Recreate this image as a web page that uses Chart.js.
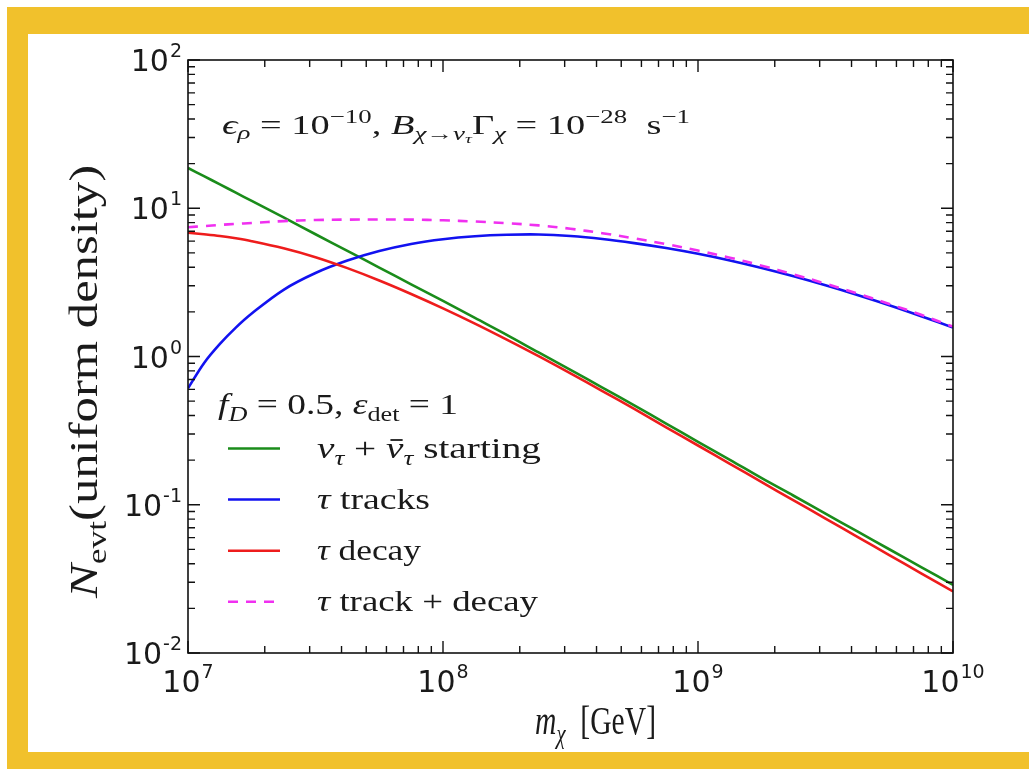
<!DOCTYPE html>
<html><head><meta charset="utf-8">
<script src="https://cdn.jsdelivr.net/npm/chart.js@4.4.1/dist/chart.umd.min.js"></script>
<style>
html,body{margin:0;padding:0;background:#fff;}
#wrap{position:relative;width:1029px;height:769px;overflow:hidden;background:#fff;}
.band{position:absolute;background:#F1C12C;}
canvas{position:absolute;left:0;top:0;}
</style></head><body>
<div id="wrap">
<div class="band" style="left:7px;top:7px;width:1022px;height:27px"></div>
<div class="band" style="left:7px;top:7px;width:21px;height:762px"></div>
<div class="band" style="left:7px;top:752px;width:1022px;height:17px"></div>
<canvas id="c" width="1029" height="769"></canvas>
</div>
<script>
// ---- data ----
const massGeV = [1e7, 1.155e7, 1.334e7, 1.540e7, 1.778e7, 2.371e7, 3.162e7, 4.217e7, 5.623e7, 7.499e7,
                 1e8, 1.334e8, 1.778e8, 2.371e8, 3.162e8, 4.217e8, 5.623e8, 7.499e8,
                 1e9, 1.334e9, 1.778e9, 2.371e9, 3.162e9, 4.217e9, 5.623e9, 7.499e9, 1e10];
const nuStarting     = [18.7, 16.45, 14.5, 12.74, 11.2, 8.67, 6.68, 5.16, 3.98, 3.07,
                        2.37, 1.82, 1.40, 1.065, 0.813, 0.617, 0.468, 0.353,
                        0.266, 0.201, 0.151, 0.115, 0.0871, 0.0661, 0.0501, 0.0380, 0.0288];
const tauTracks      = [0.610, 0.902, 1.216, 1.567, 1.950, 2.818, 3.656, 4.436, 5.140, 5.741,
                        6.180, 6.471, 6.622, 6.653, 6.501, 6.209, 5.821, 5.395,
                        4.932, 4.446, 3.954, 3.475, 3.020, 2.600, 2.218, 1.871, 1.567];
const tauDecay       = [6.839, 6.68, 6.501, 6.27, 5.998, 5.370, 4.677, 3.945, 3.258, 2.642,
                        2.113, 1.667, 1.300, 1.005, 0.769, 0.585, 0.443, 0.333,
                        0.251, 0.189, 0.142, 0.107, 0.0807, 0.0608, 0.0458, 0.0345, 0.0260];
const trackPlusDecay = [7.45, 7.58, 7.72, 7.84, 7.95, 8.19, 8.33, 8.38, 8.40, 8.38,
                        8.29, 8.14, 7.92, 7.66, 7.27, 6.79, 6.26, 5.73,
                        5.18, 4.64, 4.10, 3.58, 3.10, 2.66, 2.26, 1.91, 1.59];
const xTickValues = [1e7, 1e8, 1e9, 1e10];
const xTickExps   = ['7', '8', '9', '10'];
const yTickValues = [1e-2, 1e-1, 1, 10, 100];
const yTickExps   = ['-2', '-1', '0', '1', '2'];
const seriesLabels = ['ν_τ + ν̄_τ starting', 'τ tracks', 'τ decay', 'τ track + decay'];
const seriesColors = ['#1a8c1a', '#1212f0', '#ee1c1c', '#f030f0'];

// ---- rich text helpers ----
const SERIF = '"Liberation Serif", "DejaVu Serif", serif';
const SANS = '"DejaVu Sans", sans-serif';
const TXT = '#1a1a1a';
function seg(t, o) { return Object.assign({ t: t }, o || {}); }
const SUB = { sc: 0.7, dy: 0.22 };
const SUP = { sc: 0.7, dy: -0.42 };
function layoutRich(ctx, segs, size) {
  let w = 0; const items = [];
  for (const s of segs) {
    const fs = size * (s.sc || 1);
    const font = (s.it ? 'italic ' : '') + fs + 'px ' + SERIF;
    ctx.font = font;
    const m = ctx.measureText(s.t).width;
    items.push({ s: s, font: font, fs: fs, x: w, w: m, dy: (s.dy || 0) * size });
    w += m;
  }
  return { items: items, w: w };
}
function drawRich(ctx, segs, o) {
  const L = layoutRich(ctx, segs, o.size);
  const sx = o.width ? o.width / L.w : 1;
  ctx.save();
  ctx.translate(o.x, o.y);
  if (o.rotate) ctx.rotate(o.rotate);
  ctx.scale(sx, 1);
  ctx.fillStyle = TXT; ctx.strokeStyle = TXT;
  ctx.textBaseline = 'alphabetic'; ctx.textAlign = 'left';
  for (const it of L.items) {
    ctx.font = it.font;
    ctx.fillText(it.s.t, it.x, it.dy);
    if (it.s.bar) {
      ctx.lineWidth = it.fs * 0.06;
      const yb = it.dy - it.fs * 0.6;
      ctx.beginPath(); ctx.moveTo(it.x + it.w * 0.25, yb); ctx.lineTo(it.x + it.w * 0.95, yb); ctx.stroke();
    }
  }
  ctx.restore();
}
function drawPow(ctx, exp, x, y, align) {
  ctx.save();
  ctx.fillStyle = TXT; ctx.textBaseline = 'alphabetic'; ctx.textAlign = 'left';
  ctx.font = '30px ' + SANS; const w1 = ctx.measureText('10').width;
  ctx.font = '19px ' + SANS; const w2 = ctx.measureText(exp).width;
  const total = w1 + 1 + w2;
  const x0 = align === 'center' ? x - total / 2 : x - total;
  ctx.font = '30px ' + SANS; ctx.fillText('10', x0, y);
  ctx.font = '19px ' + SANS; ctx.fillText(exp, x0 + w1 + 1, y - 14);
  ctx.restore();
}

const richAnnot = [
  seg('ϵ', { it: 1 }), seg('ρ', { it: 1, sc: 0.7, dy: 0.2 }), seg(' = 10'), seg('−10', SUP), seg(', '),
  seg('B', { it: 1 }), seg('χ', Object.assign({ it: 1 }, SUB)), seg('→', SUB), seg('ν', Object.assign({ it: 1 }, SUB)),
  seg('τ', { it: 1, sc: 0.5, dy: 0.32 }), seg('Γ'), seg('χ', Object.assign({ it: 1 }, SUB)),
  seg(' = 10'), seg('−28', SUP), seg('  s'), seg('−1', SUP)
];
const richLegendTitle = [
  seg('f', { it: 1 }), seg('D', Object.assign({ it: 1 }, SUB)), seg(' = 0.5, '), seg('ε', { it: 1 }), seg('det', SUB), seg(' = 1')
];
const richLabels = [
  [seg('ν', { it: 1 }), seg('τ', Object.assign({ it: 1 }, SUB)), seg(' + '), seg('ν', { it: 1, bar: 1 }), seg('τ', Object.assign({ it: 1 }, SUB)), seg(' starting')],
  [seg('τ', { it: 1 }), seg(' tracks')],
  [seg('τ', { it: 1 }), seg(' decay')],
  [seg('τ', { it: 1 }), seg(' track + decay')]
];
const labelWidths = [224, 113, 104, 221];
const richYTitle = [seg('N', { it: 1 }), seg('evt', SUB), seg('(uniform density)')];
const richXTitle = [seg('m', { it: 1 }), seg('χ', Object.assign({ it: 1 }, SUB)), seg('  [GeV]')];

// ---- decoration plugin: frame, inward ticks, labels, texts, legend ----
const decor = {
  id: 'decor',
  afterDraw(chart) {
    const ctx = chart.ctx, a = chart.chartArea, xs = chart.scales.x, ys = chart.scales.y;
    ctx.save();
    ctx.strokeStyle = '#111'; ctx.lineWidth = 1.6;
    ctx.strokeRect(a.left, a.top, a.right - a.left, a.bottom - a.top);
    ctx.lineWidth = 1.4;
    for (let d = 7; d <= 10; d++) {
      for (let k = 1; k <= 9; k++) {
        const v = k * Math.pow(10, d);
        if (v > 1e10 * 1.001) break;
        const px = xs.getPixelForValue(v);
        const len = k === 1 ? 12 : 7;
        ctx.beginPath();
        ctx.moveTo(px, a.bottom); ctx.lineTo(px, a.bottom - len);
        ctx.moveTo(px, a.top); ctx.lineTo(px, a.top + len);
        ctx.stroke();
      }
    }
    for (let d = -2; d <= 2; d++) {
      for (let k = 1; k <= 9; k++) {
        const v = k * Math.pow(10, d);
        if (v > 100 * 1.001) break;
        const py = ys.getPixelForValue(v);
        const len = k === 1 ? 12 : 7;
        ctx.beginPath();
        ctx.moveTo(a.left, py); ctx.lineTo(a.left + len, py);
        ctx.moveTo(a.right, py); ctx.lineTo(a.right - len, py);
        ctx.stroke();
      }
    }
    ctx.restore();
    xTickValues.forEach((v, i) => drawPow(ctx, xTickExps[i], xs.getPixelForValue(v), 692, 'center'));
    yTickValues.forEach((v, i) => drawPow(ctx, yTickExps[i], 182, ys.getPixelForValue(v) + 11, 'right'));
    drawRich(ctx, richXTitle, { x: 535, y: 734, size: 40, width: 121 });
    drawRich(ctx, richYTitle, { x: 97, y: 598, size: 40, width: 433, rotate: -Math.PI / 2 });
    drawRich(ctx, richAnnot, { x: 222, y: 134, size: 27, width: 468 });
    drawRich(ctx, richLegendTitle, { x: 218, y: 414, size: 30, width: 240 });
    const rows = [448.5, 499.5, 550.7, 601.7];
    chart.data.datasets.forEach((ds, i) => {
      ctx.save();
      ctx.strokeStyle = ds.borderColor; ctx.lineWidth = ds.borderWidth;
      ctx.setLineDash(ds.borderDash || []);
      ctx.beginPath(); ctx.moveTo(228, rows[i]); ctx.lineTo(280, rows[i]); ctx.stroke();
      ctx.restore();
      drawRich(ctx, richLabels[i], { x: 317, y: rows[i] + 9.5, size: 30, width: labelWidths[i] });
    });
  }
};

const toPts = arr => arr.map((v, i) => ({ x: massGeV[i], y: v }));
const series = [nuStarting, tauTracks, tauDecay, trackPlusDecay];
const datasets = series.map((arr, i) => ({
  label: seriesLabels[i],
  data: toPts(arr),
  borderColor: seriesColors[i],
  borderWidth: 2.6,
  borderDash: i === 3 ? [10, 8] : [],
  pointRadius: 0,
  fill: false,
  tension: 0.35,
  order: 3 - i
}));

new Chart(document.getElementById('c'), {
  type: 'line',
  data: { datasets: datasets },
  options: {
    responsive: false,
    animation: false,
    layout: { padding: { left: 40, top: 60, right: 76, bottom: 40 } },
    plugins: { legend: { display: false }, tooltip: { enabled: false } },
    scales: {
      x: {
        type: 'logarithmic', min: 1e7, max: 1e10,
        afterBuildTicks(s) { s.ticks = xTickValues.map(v => ({ value: v })); },
        afterFit(s) { s.height = 76; },
        ticks: { display: false }, grid: { display: false }, border: { display: false }
      },
      y: {
        type: 'logarithmic', min: 1e-2, max: 1e2,
        afterBuildTicks(s) { s.ticks = yTickValues.map(v => ({ value: v })); },
        afterFit(s) { s.width = 148; },
        ticks: { display: false }, grid: { display: false }, border: { display: false }
      }
    }
  },
  plugins: [decor]
});
</script>
</body></html>
